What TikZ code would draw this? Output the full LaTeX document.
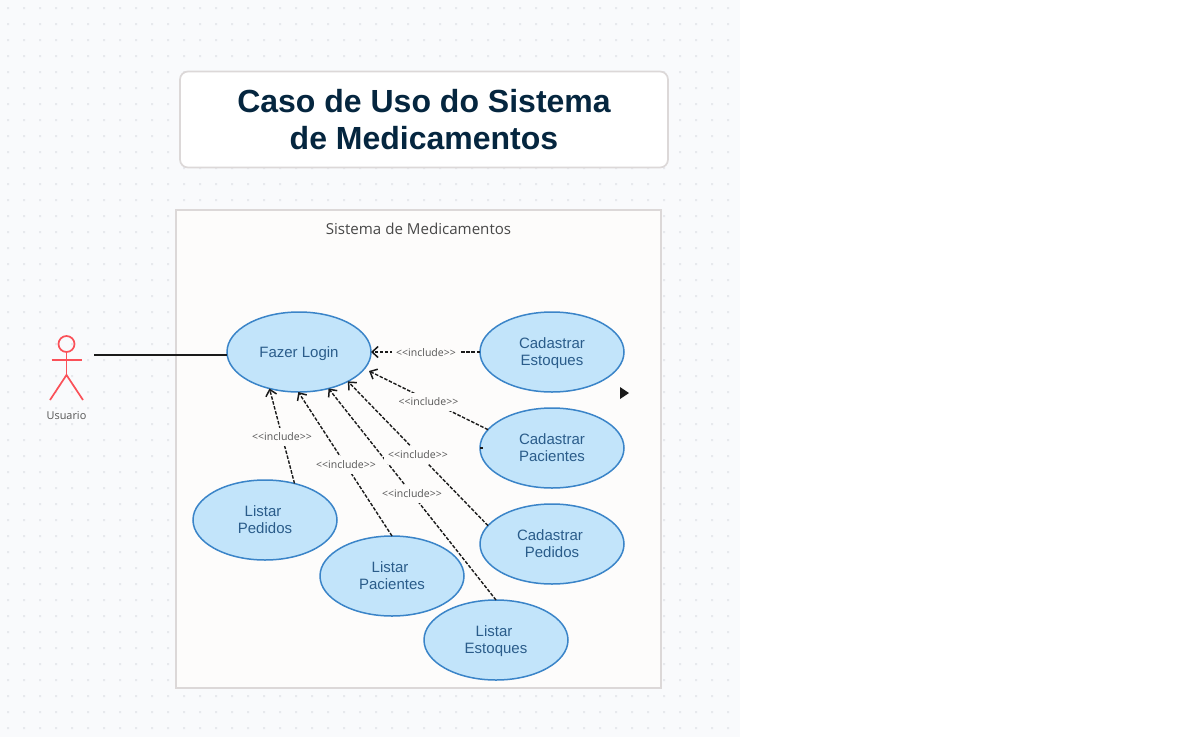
\documentclass[tikz,border=0pt]{standalone}
\usepackage{fontspec}
\setmainfont{Liberation Sans}
\newfontfamily\labfont{Open Sans}
\usetikzlibrary{arrows.meta,shapes.geometric}
\definecolor{pagebg}{HTML}{F9FAFC}
\definecolor{pagedot}{HTML}{E7E9ED}
\definecolor{boxline}{HTML}{DCD8D8}
\definecolor{sysfill}{HTML}{FDFCFB}
\definecolor{titlecol}{HTML}{05263F}
\definecolor{usefill}{HTML}{C2E4FA}
\definecolor{useline}{HTML}{3A84C8}
\definecolor{usetext}{HTML}{2A5C8A}
\definecolor{actorred}{HTML}{FA5058}
\definecolor{labgrey}{HTML}{555555}
\definecolor{linecol}{HTML}{1A1A1A}
\newcommand{\usetxt}[1]{\raisebox{-1.8pt}[\height][\depth]{\begin{tabular}{@{}c@{}}#1\end{tabular}}}
\tikzset{
  usecase/.style={ellipse,draw=useline,fill=usefill,line width=1.5pt,minimum width=144pt,minimum height=80pt,inner sep=0pt,outer sep=0pt,text=usetext,font=\fontsize{15}{17}\selectfont},
  inclabel/.style={fill=sysfill,text=labgrey,inner sep=0pt,minimum width=68pt,minimum height=18pt,yshift=-0.5pt,font=\labfont\fontsize{10.5}{12}\selectfont},
  incl/.style={draw=linecol,line width=1.4pt,dash pattern=on 3.5pt off 1.6pt,-{Straight Barb[length=6pt,width=11pt,line width=1.5pt]}},
  actorline/.style={draw=actorred,line width=1.7pt},
}
\begin{document}
\begin{tikzpicture}[x=1pt,y=-1pt]
\useasboundingbox (0,0) rectangle (1194,737);
\fill[white] (0,0) rectangle (1194,737);
\fill[pagebg] (0,0) rectangle (740,737);
\fill[pagedot] foreach \i in {0,...,45} { foreach \j in {0,...,45} { (7+16*\i,7+16*\j) rectangle ++(2,2) } };
% title
\node[draw=boxline,fill=white,line width=1.7pt,rounded corners=8pt,minimum width=488pt,minimum height=96pt,inner sep=0pt,align=center,text=titlecol,font=\bfseries\fontsize{32}{36.5}\selectfont] (title) at (424,119.5) {Caso de Uso do Sistema\\de Medicamentos};
% system boundary
\node[draw=boxline,fill=sysfill,line width=2pt,minimum width=485.5pt,minimum height=478.5pt,inner sep=0pt] (system) at (418.25,448.75) {};
\node[text=labgrey!85!black,inner sep=0pt,font=\labfont\fontsize{15.1}{17}\selectfont] (systitle) at (418.5,228.5) {Sistema de Medicamentos};
% use cases
\node[usecase] (login) at (299,352) {\usetxt{Fazer Login}};
\node[usecase] (cest) at (552,352) {\usetxt{Cadastrar\\Estoques}};
\node[usecase] (cpac) at (552,448) {\usetxt{Cadastrar\\Pacientes}};
\node[usecase] (cped) at (552,544) {\usetxt{Cadastrar\hspace*{4pt}\\Pedidos}};
\node[usecase] (lped) at (265,520) {\usetxt{Listar\hspace*{4pt}\\Pedidos}};
\node[usecase] (lpac) at (392,576) {\usetxt{Listar\hspace*{4pt}\\Pacientes}};
\node[usecase] (lest) at (496,640) {\usetxt{Listar\hspace*{4pt}\\Estoques}};
% actor
\node[circle,actorline,minimum size=16pt,inner sep=0pt,outer sep=0pt] (head) at (66.5,344) {};
\coordinate (hip) at (66.5,375);
\coordinate (armL) at (51.5,360);
\coordinate (armR) at (81.5,360);
\coordinate (footL) at (50,400);
\coordinate (footR) at (83,400);
\draw[actorline] (head.south) -- (hip);
\draw[actorline] (armL) -- (armR);
\draw[actorline] (footL) -- (hip) -- (footR);
\node[text=labgrey,inner sep=0pt,font=\labfont\fontsize{10.9}{12}\selectfont] (actor) at (66.5,415.5) {Usuario};
% association
\coordinate (assocstart) at (94,355);
\draw[draw=linecol,line width=1.5pt] (assocstart) -- (login.west |- assocstart);
% includes
\coordinate (tipB) at (369,371);
\draw[incl] (cest.west) -- (login.east);
\draw[incl] (cpac.164.3) -- (tipB);
\draw[incl] (cped.164.3) -- (login.-31.1);
\draw[incl] (lest.north) -- (login.-51.3);
\draw[incl] (lpac.north) -- (login.-91);
\draw[incl] (lped.51) -- (login.-129);
\node[inclabel] (i1) at (426,352) {<{}<include>{}>};
\node[inclabel] (i2) at (428.5,401.5) {<{}<include>{}>};
\node[inclabel] (i3) at (418,454.5) {<{}<include>{}>};
\node[inclabel] (i4) at (412,493) {<{}<include>{}>};
\node[inclabel] (i5) at (346,464) {<{}<include>{}>};
\node[inclabel] (i6) at (282,436) {<{}<include>{}>};
% stray marks
\draw[draw=linecol,line width=1.2pt] (cpac.west) -- ++(2.5,0);
\coordinate (tri) at (620,387);
\fill[linecol] (tri) -- ++(0,12) -- ++(9,-6) -- cycle;
\end{tikzpicture}
\end{document}
